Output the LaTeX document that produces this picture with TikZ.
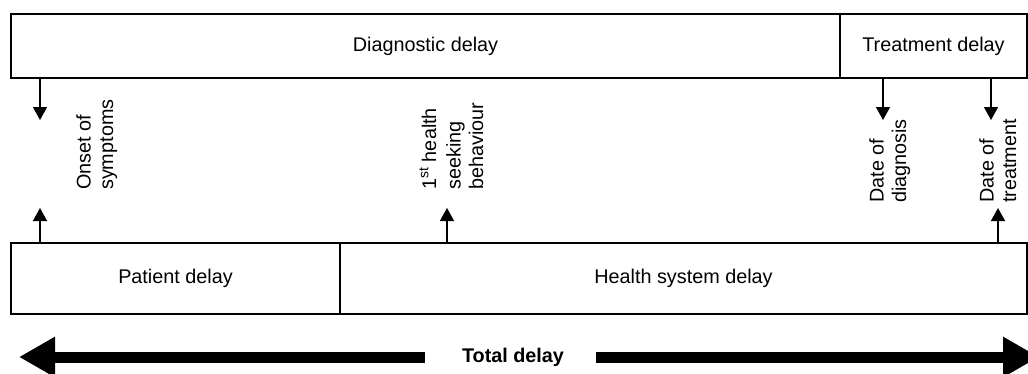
\documentclass[tikz,border=0pt]{standalone}
\usepackage{fontspec}
\setmainfont{Liberation Sans}
\usetikzlibrary{arrows.meta}
\begin{document}
\begin{tikzpicture}[x=1pt,y=-1pt,
  box/.style={draw,line width=1.4pt,inner sep=0pt,font=\fontsize{19.8}{22.5}\selectfont},
  arr/.style={line width=1.4pt,-{Triangle[length=13pt,width=14pt]}},
  lbl/.style={rotate=90,anchor=base west,align=left,inner sep=0pt,font=\fontsize{19.8}{22.5}\selectfont},
  big/.style={line width=11pt,-{Triangle[length=36pt,width=38pt]}}]
\clip (0,0) rectangle (1028,373);
\fill[white] (0,0) rectangle (1028,373);
% boxes
\node[box,minimum width=829pt,minimum height=64pt] (diag) at (425.5,46) {Diagnostic delay};
\node[box,minimum width=187pt,minimum height=64pt] (treat) at (933.5,46) {Treatment delay};
\node[box,minimum width=329pt,minimum height=71pt] (pat) at (175.5,278.5) {Patient delay};
\node[box,minimum width=687pt,minimum height=71pt] (hs) at (683.5,278.5) {Health system delay};
% labels (anchor at baseline of last line)
\node[lbl] (onset) at (113,190) {Onset of\\symptoms};
\node[lbl] (first) at (483,190) {1\textsuperscript{st} health\\[2pt]seeking\\behaviour};
\node[lbl] (ddiag) at (906,203) {Date of\\diagnosis};
\node[lbl] (dtreat) at (1016,203) {Date of\\treatment};
% arrow end points
\coordinate (d1) at (40,120);
\coordinate (d2) at (883,120);
\coordinate (d3) at (991,120);
\coordinate (u1) at (40,208);
\coordinate (u2) at (447,208);
\coordinate (u3) at (998,208);
\draw[arr] (diag.south -| d1) -- (d1);
\draw[arr] (diag.south -| d2) -- (d2);
\draw[arr] (treat.south -| d3) -- (d3);
\draw[arr] (pat.north -| u1) -- (u1);
\draw[arr] (hs.north -| u2) -- (u2);
\draw[arr] (hs.north -| u3) -- (u3);
% total delay
\node[font=\fontsize{19.8}{22.5}\selectfont\bfseries,inner sep=0pt] (total) at (513,357) {Total delay};
\coordinate (lt) at (19,357);
\coordinate (rt) at (1039,357);
\draw[big] ([xshift=-37pt]total.west) -- (lt);
\draw[big] ([xshift=32pt]total.east) -- (rt);
\end{tikzpicture}
\end{document}
